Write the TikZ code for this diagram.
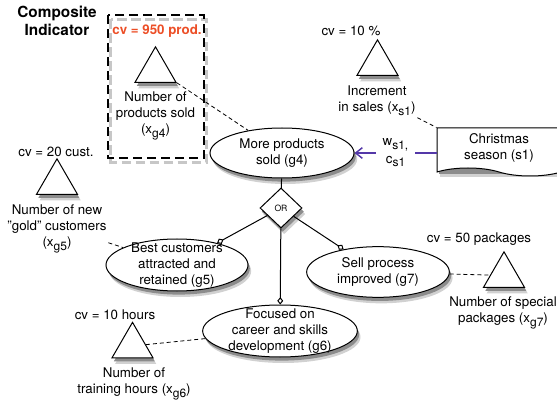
\documentclass[tikz,border=0pt]{standalone}
\usepackage{fontspec}
\setmainfont{TeX Gyre Heros}
\usetikzlibrary{shapes.geometric,shapes.symbols,arrows.meta}

\definecolor{cvred}{RGB}{236,78,38}
\definecolor{linkpurple}{RGB}{84,56,168}

\newcommand{\lowsub}[1]{\raisebox{-0.55ex}{\fontsize{9}{9}\selectfont #1}}

\tikzset{every picture/.style={line width=0.75pt}}
\tikzset{
  goal/.style={ellipse, draw, fill=white, inner sep=0pt},
  goaltext/.style={align=center, inner sep=0pt},
  indic/.style={regular polygon, regular polygon sides=3, draw, fill=white, inner sep=0pt, minimum size=35.5pt},
  cvtext/.style={inner sep=1pt},
  desctext/.style={align=center, inner sep=1pt},
  measure/.style={dash pattern=on 3pt off 2.2pt, line width=0.6pt},
  ortip/.style={-{Diamond[open,length=5.5pt,width=4.5pt]}},
  shadowfar/.style={fill=black!18},
  shadownear/.style={fill=black!45},
}

\begin{document}
\begin{tikzpicture}[x=0.75pt,y=0.75pt,yscale=-1,xscale=1, every node/.style={font=\fontsize{10}{12}\selectfont}]
        \useasboundingbox (0,0) rectangle (557,406);

        % Shadows (far)
        \draw [dash pattern=on 7pt off 3.5pt, line width=2.6pt, black!22] (110.5,19.5) rectangle (206.5,162.5);
        \fill [shadowfar] (285.2,159) ellipse [x radius=54pt, y radius=18.75pt];
        \fill [shadowfar] (180.2,271) ellipse [x radius=53.25pt, y radius=19.5pt];
        \fill [shadowfar] (283.2,337) ellipse [x radius=58pt, y radius=19.5pt];
        \fill [shadowfar] (381.2,278) ellipse [x radius=53.5pt, y radius=19pt];
        \fill [shadowfar] (158.7,52.8) -- ++(-20.5,35.5) -- ++(41,0) -- cycle;
        \fill [shadowfar] (380.7,45.8) -- ++(-20.5,35.5) -- ++(41,0) -- cycle;
        \fill [shadowfar] (60.2,164.8) -- ++(-20.5,35.5) -- ++(41,0) -- cycle;
        \fill [shadowfar] (135.7,328.3) -- ++(-20.5,35.5) -- ++(41,0) -- cycle;
        \fill [shadowfar] (507.2,257.8) -- ++(-20.5,35.5) -- ++(41,0) -- cycle;
        \fill [shadowfar] (284.2,194) -- (305.2,214) -- (284.2,234) -- (263.2,214) -- cycle;
        \fill [shadowfar] (440.2,130) rectangle (561,177);
        % Shadows (near)
        \fill [shadownear] (283.8,156.6) ellipse [x radius=54pt, y radius=18.75pt];
        \fill [shadownear] (178.8,268.6) ellipse [x radius=53.25pt, y radius=19.5pt];
        \fill [shadownear] (281.8,334.6) ellipse [x radius=58pt, y radius=19.5pt];
        \fill [shadownear] (379.8,275.6) ellipse [x radius=53.5pt, y radius=19pt];
        \fill [shadownear] (157.3,50.4) -- ++(-20.5,35.5) -- ++(41,0) -- cycle;
        \fill [shadownear] (379.3,43.4) -- ++(-20.5,35.5) -- ++(41,0) -- cycle;
        \fill [shadownear] (58.8,162.4) -- ++(-20.5,35.5) -- ++(41,0) -- cycle;
        \fill [shadownear] (134.3,325.9) -- ++(-20.5,35.5) -- ++(41,0) -- cycle;
        \fill [shadownear] (505.8,255.4) -- ++(-20.5,35.5) -- ++(41,0) -- cycle;
        \fill [shadownear] (282.8,191.6) -- (303.8,211.6) -- (282.8,231.6) -- (261.8,211.6) -- cycle;
        \fill [shadownear] (438.8,127.6) rectangle (561,174);

        % Text Node
        \node (title) [align=center, font=\bfseries\fontsize{11.5}{13}\selectfont] at (57,21) {Composite\\Indicator};
        %Shape: Rectangle
        \draw [dash pattern=on 7pt off 3.5pt, line width=1.8pt] (108,15) rectangle (204,158);

        %Shape: Ellipse
        \node (g4) [goal, minimum width=108pt, minimum height=37.5pt, label={[goaltext]center:{More products\\sold (g4)}}] at (282,153) {};
        %Shape: Ellipse
        \node (g5) [goal, minimum width=106.5pt, minimum height=39pt, label={[goaltext]center:{Best customers\\attracted and\\retained (g5)}}] at (177,265) {};
        %Shape: Ellipse
        \node (g6) [goal, minimum width=116pt, minimum height=39pt, label={[goaltext]center:{Focused on\\career and skills\\development (g6)}}] at (280,331) {};
        %Shape: Ellipse
        \node (g7) [goal, minimum width=107pt, minimum height=38pt, label={[goaltext]center:{Sell process\\improved (g7)}}] at (378,272) {};
        %Shape: Diamond
        \node (or) [diamond, draw, fill=white, inner sep=0pt, minimum width=31.5pt, minimum height=30pt, font=\fontsize{6.5}{7}\selectfont] at (281,208) {OR};
        %Shape: Tape
        \node (s1) [tape, tape bend top=none, tape bend bottom=out and in, tape bend height=6pt, draw, fill=white, minimum width=93pt, minimum height=36pt, align=center] at (499,148) {Christmas\\season (s1)};

        %Straight Lines
        \draw (g4) -- (or);
        \draw [ortip] (or) -- (g5);
        \draw [ortip] (or) -- (g6);
        \draw [ortip] (or) -- (g7);

        % Indicator x_g4
        \node (cvg4) [cvtext, font=\bfseries\fontsize{10}{12}\selectfont, text=cvred] at (157,31) {cv = 950 prod.};
        \node (tg4) [indic] at (155.5,70.5) {};
        \node (lg4) [desctext] at (155.5,116) {Number of\\products sold\\(x\lowsub{g4})};
        \draw [measure] (tg4.corner 3) -- (g4);

        % Indicator x_s1
        \node (cvs1) [cvtext] at (351,31) {cv = 10 \%};
        \node (ts1) [indic] at (377.5,63.5) {};
        \node (ls1) [desctext] at (377,101) {Increment\\in sales (x\lowsub{s1})};
        \draw [measure] (ls1.south east) -- (s1.north west);

        %Straight Lines
        \draw [linkpurple, line width=1.1pt, -{Straight Barb[length=5pt,width=8pt]}] (s1.west |- g4.east) -- node (ws1) [fill=white, text=black, align=center, inner xsep=5pt, inner ysep=1pt, font=\fontsize{10}{13}\selectfont] {w\lowsub{s1,}\\c\lowsub{s1}} (g4.east);

        % Indicator x_g5
        \node (cvg5) [cvtext] at (56,152) {cv = 20 cust.};
        \node (tg5) [indic] at (57,182.5) {};
        \node (lg5) [desctext] at (57,229) {Number of new\\"gold" customers\\(x\lowsub{g5})};
        \draw [measure] (lg5.-15) -- (g5);

        % Indicator x_g6
        \node (cvg6) [cvtext] at (115,315) {cv = 10 hours};
        \node (tg6) [indic] at (132.5,346) {};
        \node (lg6) [desctext] at (134,384) {Number of\\training hours (x\lowsub{g6})};
        \draw [measure] (tg6) -- (g6);

        % Indicator x_g7
        \node (cvg7) [cvtext] at (479,239) {cv = 50 packages};
        \node (tg7) [indic] at (504,275.5) {};
        \node (lg7) [desctext] at (503,313) {Number of special\\packages (x\lowsub{g7})};
        \draw [measure] (g7) -- (tg7);

    \end{tikzpicture}
\end{document}
